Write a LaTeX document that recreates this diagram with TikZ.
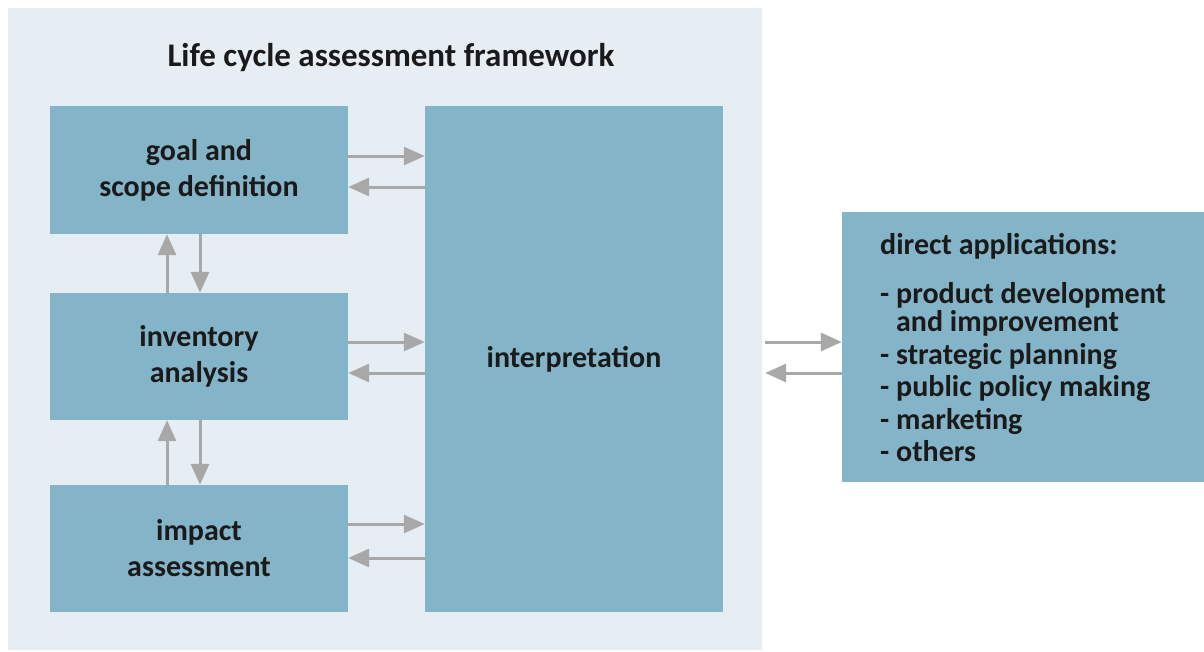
\documentclass[tikz,border=0pt]{standalone}
\usepackage{fontspec}
\setmainfont{Carlito}
\usetikzlibrary{arrows.meta}
\definecolor{panelbg}{HTML}{E6EEF4}
\definecolor{boxfill}{HTML}{84B4C8}
\definecolor{arrgray}{HTML}{A8A8A8}
\definecolor{txt}{HTML}{1A1A1A}
\tikzset{
  box/.style={fill=boxfill, draw=none, inner sep=0pt, align=center, text=txt,
    font=\fontsize{30}{36}\selectfont\bfseries},
  arr/.style={draw=arrgray, line width=3pt, -{Triangle[length=21pt,width=18pt]}, shorten >=0pt},
  apptext/.style={anchor=base west, inner sep=0pt, text=txt, font=\fontsize{30}{32}\selectfont\bfseries},
}
\begin{document}
\begin{tikzpicture}[x=1pt,y=-1pt]
\useasboundingbox (0,0) rectangle (1204,651);
\fill[white] (0,0) rectangle (1204,651);
\node[fill=panelbg, minimum width=754pt, minimum height=642pt, inner sep=0pt] (frame) at (385,329) {};
\node[text=txt, font=\fontsize{33}{36}\selectfont\bfseries] (title) at (391,58) {Life cycle assessment framework};
\node[box, minimum width=298pt, minimum height=128pt] (goal) at (199,170) {goal and\\scope definition};
\node[box, minimum width=298pt, minimum height=127pt] (inv) at (199,356.5) {inventory\\analysis};
\node[box, minimum width=298pt, minimum height=127pt] (imp) at (199,548.5) {impact\\assessment};
\node[box, minimum width=298pt, minimum height=506pt] (interp) at (574,359) {\raisebox{4pt}{interpretation}};
\node[box, minimum width=362pt, minimum height=270pt] (apps) at (1023,347) {};
% applications text
\node[apptext] (a0) at (880,254) {direct applications:};
\node[apptext] (a1) at (880,303) {- product development};
\node[apptext] (a2) at (880,331) {\hphantom{-}\ and improvement};
\node[apptext] (a3) at (880,364) {- strategic planning};
\node[apptext] (a4) at (880,396) {- public policy making};
\node[apptext] (a5) at (880,429) {- marketing};
\node[apptext] (a6) at (880,461) {- others};
% horizontal arrows to interpretation
\draw[arr] (goal.east |- 0,156) -- (interp.west |- 0,156);
\draw[arr] (interp.west |- 0,187) -- (goal.east |- 0,187);
\draw[arr] (inv.east |- 0,342) -- (interp.west |- 0,342);
\draw[arr] (interp.west |- 0,373) -- (inv.east |- 0,373);
\draw[arr] (imp.east |- 0,524) -- (interp.west |- 0,524);
\draw[arr] (interp.west |- 0,558) -- (imp.east |- 0,558);
% vertical arrows
\draw[arr] (inv.north -| 167,0) -- (goal.south -| 167,0);
\draw[arr] (goal.south -| 200,0) -- (inv.north -| 200,0);
\draw[arr] (imp.north -| 167,0) -- (inv.south -| 167,0);
\draw[arr] (inv.south -| 200,0) -- (imp.north -| 200,0);
% to applications
\draw[arr] ([xshift=3pt]frame.east |- 0,342) -- (apps.west |- 0,342);
\draw[arr] (apps.west |- 0,373) -- ([xshift=3pt]frame.east |- 0,373);
\end{tikzpicture}
\end{document}
